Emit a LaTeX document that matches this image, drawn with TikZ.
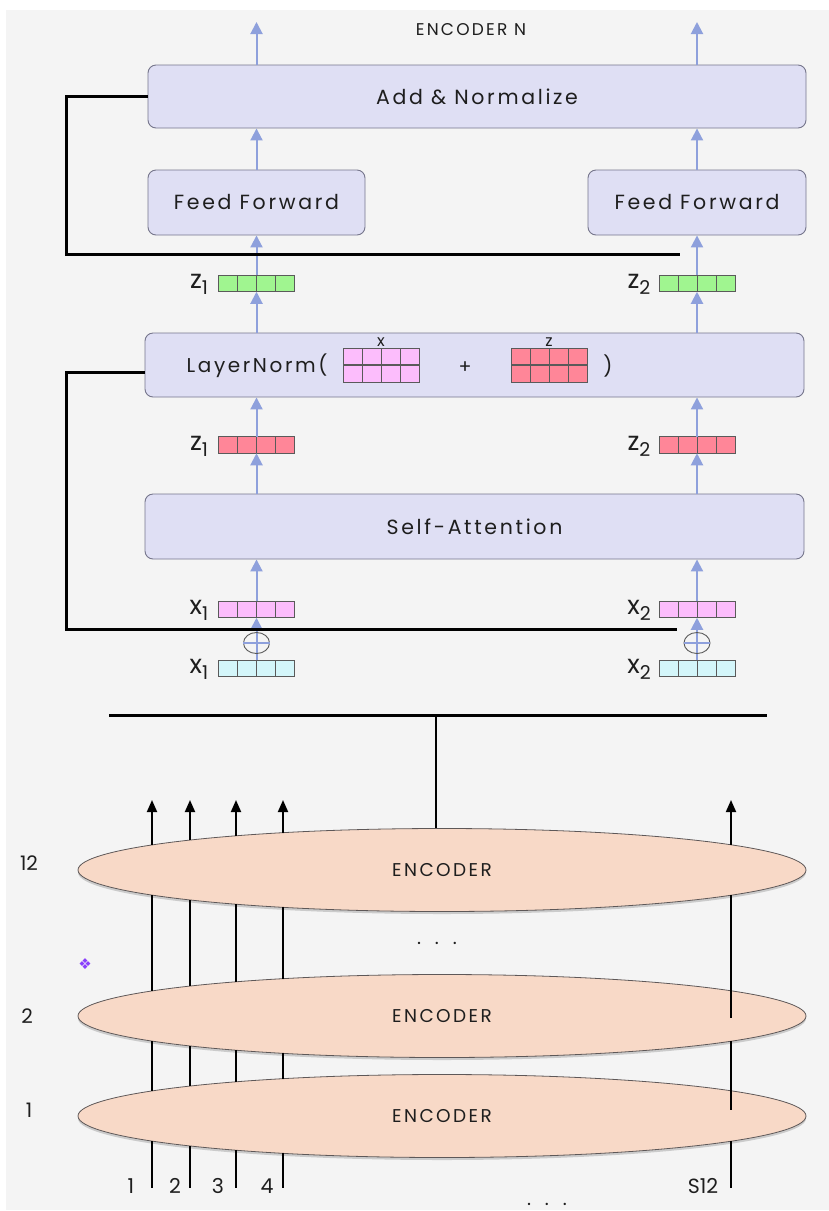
\documentclass[tikz,border=0pt]{standalone}
\usepackage{fontspec}
\setmainfont{Poppins}
\newfontfamily\spacedfont{Poppins}[LetterSpace=13]
\newfontfamily\symfont{DejaVu Sans}
\usetikzlibrary{arrows.meta,calc,shapes.geometric,shadows}

\definecolor{panel}{HTML}{F4F4F4}
\definecolor{boxfill}{HTML}{DFDFF4}
\definecolor{boxline}{HTML}{76768C}
\definecolor{flow}{HTML}{8EA0DC}
\definecolor{vecline}{HTML}{5A5A5A}
\definecolor{vgreen}{HTML}{A0F590}
\definecolor{vred}{HTML}{FF8698}
\definecolor{vpink}{HTML}{FCBDFC}
\definecolor{vcyan}{HTML}{D4F6FA}
\definecolor{encfill}{HTML}{F8D9C7}
\definecolor{encline}{HTML}{5E5858}
\definecolor{gem}{HTML}{8A3FFC}
\definecolor{ink}{HTML}{1E1E1E}

\tikzset{
  layer/.style={draw=boxline, fill=boxfill, rounded corners=8pt, line width=0.9pt,
    inner sep=0pt, text=ink, font=\spacedfont\fontsize{20.5}{20.5}\selectfont},
  flowarrow/.style={draw=flow, line width=2pt, -{Triangle[width=12pt,length=12pt]}},
  flowline/.style={draw=flow, line width=1.6pt},
  resline/.style={draw=black, line width=3pt},
  vec/.style={draw=vecline, line width=0.8pt, minimum width=76pt, inner sep=0pt, outer sep=0pt},
  cellsep/.style={draw=vecline, line width=0.7pt},
  veclabel/.style={text=ink, inner sep=0pt, font=\fontsize{26}{26}\selectfont},
  addop/.style={draw=vecline, line width=0.9pt, ellipse, minimum width=26pt, minimum height=21pt, inner sep=0pt},
  enc/.style={ellipse, draw=encline, fill=encfill, line width=0.8pt, minimum width=728pt,
    minimum height=83pt, inner sep=0pt, text=ink, font=\spacedfont\fontsize{18.5}{18.5}\selectfont,
    drop shadow={opacity=0.35, shadow xshift=0pt, shadow yshift=-2.5pt}},
  tokenline/.style={draw=black, line width=1.8pt},
  tokenarrow/.style={draw=black, line width=1.8pt, -{Triangle[width=10pt,length=12pt]}},
  numlabel/.style={text=ink, inner sep=0pt, font=\fontsize{20}{20}\selectfont},
}

% token vector: name, x, y, fill colour, rows
\newcommand\tokvec[5]{%
  \node[vec, fill=#4, minimum height=#5*16.5pt] (#1) at (#2,#3) {};
  \foreach \k in {1,2,3}
    \draw[cellsep] ($(#1.north west)!\k/4!(#1.north east)$) -- ($(#1.south west)!\k/4!(#1.south east)$);
}
% label with a lowered index in the same typeface
\newcommand\idx[2]{#1\raisebox{-6pt}{\fontsize{19}{19}\selectfont #2}}

\begin{document}
\begin{tikzpicture}[x=1pt, y=-1pt]
\useasboundingbox (0,0) rectangle (829,1211);
\fill[white] (0,0) rectangle (829,1211);
\fill[panel] (6,10) rectangle (829,1210);

% ---------------- encoder block ----------------
\node[text=ink, inner sep=0pt, font=\spacedfont\fontsize{17}{17}\selectfont] (title) at (471,30) {ENCODER N};

\node[layer, minimum width=658pt, minimum height=63pt] (an) at (477,96.5) {Add \& Normalize};
\node[layer, minimum width=217pt, minimum height=65pt] (ff1) at (256.5,202.5) {Feed Forward};
\node[layer, minimum width=218pt, minimum height=65pt] (ff2) at (697,202.5) {Feed Forward};
\node[layer, minimum width=659pt, minimum height=64pt] (ln) at (474.5,365) {};
\node[layer, minimum width=659pt, minimum height=65pt] (sa) at (474.5,526.5) {Self-Attention};

% LayerNorm( x + z )
\node[text=ink, inner sep=0pt, font=\spacedfont\fontsize{20}{20}\selectfont] (lnword) at (257,366) {LayerNorm(};
\node[vec, fill=vpink, minimum height=34pt] (mx) at (381,365) {};
\node[vec, fill=vred, minimum height=34pt] (mz) at (549,365) {};
\foreach \m in {mx,mz}{
  \foreach \k in {1,2,3}
    \draw[cellsep] ($(\m.north west)!\k/4!(\m.north east)$) -- ($(\m.south west)!\k/4!(\m.south east)$);
  \draw[vecline, line width=1.4pt] (\m.west) -- (\m.east);
}
\node[text=ink, inner sep=0pt, font=\fontsize{16}{16}\selectfont, anchor=south] (mxl) at ([yshift=1pt]mx.north) {x};
\node[text=ink, inner sep=0pt, font=\fontsize{16}{16}\selectfont, anchor=south] (mzl) at ([yshift=1pt]mz.north) {z};
\node[text=ink, inner sep=0pt, font=\fontsize{19}{19}\selectfont] (plus) at (465,368) {+};
\node[text=ink, inner sep=0pt, font=\fontsize{20}{20}\selectfont] (rpar) at (608,366) {)};

% token vectors, left and right columns
\tokvec{g1}{256.5}{283.5}{vgreen}{1}
\tokvec{g2}{697}{283.5}{vgreen}{1}
\tokvec{r1}{256.5}{445}{vred}{1}
\tokvec{r2}{697}{445}{vred}{1}
\tokvec{p1}{256.5}{609.5}{vpink}{1}
\tokvec{p2}{697}{609.5}{vpink}{1}
\tokvec{c1}{256.5}{668.5}{vcyan}{1}
\tokvec{c2}{697}{668.5}{vcyan}{1}

\node[veclabel] (g1l) at (199,284) {\idx{z}{1}};
\node[veclabel] (g2l) at (639,284) {\idx{z}{2}};
\node[veclabel] (r1l) at (199,446) {\idx{z}{1}};
\node[veclabel] (r2l) at (639,446) {\idx{z}{2}};
\node[veclabel] (p1l) at (199,610) {\idx{x}{1}};
\node[veclabel] (p2l) at (639,610) {\idx{x}{2}};
\node[veclabel] (c1l) at (199,669) {\idx{x}{1}};
\node[veclabel] (c2l) at (639,669) {\idx{x}{2}};

% upward flow
\coordinate (out1) at (256.5,22);
\coordinate (out2) at (697,22);
\foreach \c/\t in {1/ff1, 2/ff2}{
  \draw[flowarrow] (an.north -| out\c) -- (out\c);
  \draw[flowarrow] (\t.north) -- (\t.north |- an.south);
  \draw[flowarrow] (g\c.north) -- (\t.south);
  \draw[flowarrow] (ln.north -| g\c) -- (g\c.south);
  \draw[flowarrow] (r\c.north) -- (r\c.north |- ln.south);
  \draw[flowarrow] (sa.north -| r\c) -- (r\c.south);
  \draw[flowarrow] (p\c.north) -- (p\c.north |- sa.south);
  \draw[flowarrow] (c\c.north) -- (p\c.south);
}

% positional-encoding addition
\node[addop] (add1) at (256.5,643) {};
\node[addop] (add2) at (697,643) {};
\draw[flowline] (add1.west) -- (add1.east);
\draw[flowline] (add2.west) -- (add2.east);

% residual connections
\coordinate (res1end) at (680,254);
\coordinate (res2start) at (ln.west |- 0,372);
\coordinate (res2end) at (677,629);
\draw[resline] (an.west) -- (66,96.5) |- (res1end);
\draw[resline] (res2start) -- (66,372) |- (res2end);

% ---------------- stack of encoders ----------------
\coordinate (busL) at (109,715);
\coordinate (busR) at (767,715);
\coordinate (busM) at (436,715);
\draw[draw=black, line width=3pt] (busL) -- (busR);

\node[enc] (e12) at (442,870) {ENCODER};
\node[enc] (e2) at (442,1016) {ENCODER};
\node[enc] (e1) at (442,1116) {ENCODER};

\draw[draw=black, line width=1.5pt] (busM) -- (busM |- e12.north);

\node[numlabel] (n12) at (29,863) {12};
\node[numlabel] (n2) at (27,1016) {2};
\node[numlabel] (n1) at (29,1110) {1};

\node[text=ink, inner sep=0pt, font=\fontsize{19}{19}\selectfont] (dotsmid) at (437,943) {.\hspace{14pt}.\hspace{14pt}.};
\node[text=ink, inner sep=0pt, font=\fontsize{19}{19}\selectfont] (dotsbot) at (547,1204) {.\hspace{14pt}.\hspace{14pt}.};
\node[text=gem, inner sep=0pt, font=\symfont\fontsize{15}{15}\selectfont] (gemmark) at (85,964) {❖};

% token streams through the encoders
\foreach \x in {152,190,236,283,731}{
  \pgfmathsetmacro\dy{41.5*sqrt(1-((\x-442)/364)^2)}
  \draw[tokenarrow] ($(e12.center)+(\x-442,-\dy)$) -- ($(e12.center)+(\x-442,-70)$);
  \draw[tokenline] ($(e1.center)+(\x-442,\dy)$) -- ($(e1.center)+(\x-442,72)$);
}
\foreach \x in {152,190,236,283}{
  \pgfmathsetmacro\dy{41.5*sqrt(1-((\x-442)/364)^2)}
  \draw[tokenline] ($(e12.center)+(\x-442,\dy)$) -- ($(e2.center)+(\x-442,-\dy)$);
  \draw[tokenline] ($(e2.center)+(\x-442,\dy)$) -- ($(e1.center)+(\x-442,-\dy)$);
}
\pgfmathsetmacro\dys{41.5*sqrt(1-((731-442)/364)^2)}
\draw[tokenline] ($(e12.center)+(289,\dys)$) -- ($(e2.center)+(289,2)$);
\draw[tokenline] ($(e2.center)+(289,\dys)$) -- ($(e1.center)+(289,-6)$);

\node[numlabel, font=\fontsize{20.5}{20.5}\selectfont] (t1) at (131,1186) {1};
\node[numlabel, font=\fontsize{20.5}{20.5}\selectfont] (t2) at (175,1186) {2};
\node[numlabel, font=\fontsize{20.5}{20.5}\selectfont] (t3) at (218,1186) {3};
\node[numlabel, font=\fontsize{20.5}{20.5}\selectfont] (t4) at (267,1186) {4};
\node[numlabel, font=\fontsize{20.5}{20.5}\selectfont] (ts) at (703,1186) {S12};
\end{tikzpicture}
\end{document}
